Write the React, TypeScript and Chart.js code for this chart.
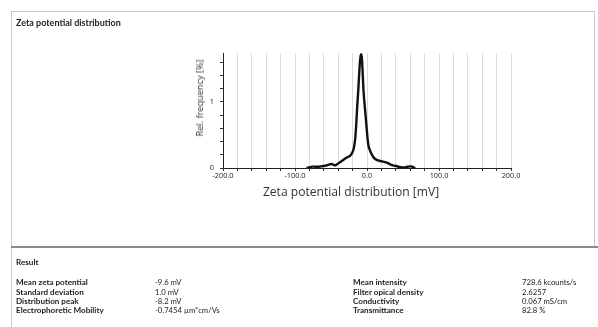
import React, { useEffect, useRef } from "react";
import { Chart, registerables } from "chart.js";

Chart.register(...registerables);

const zetaMv = [
  -84, -80, -76, -72, -68, -64, -60, -56, -52, -49, -46, -43, -40, -36, -32, -28, -24, -21, -19, -17.5,
  -16.3, -15, -14, -13, -12, -11, -10, -9, -8.2, -7.4, -6.5, -5, -3.5, -2, -0.5, 1, 2.2, 4, 6, 8.5,
  11, 14, 17, 21, 25, 29, 33, 37, 41, 45, 49, 53, 57, 61, 64, 67,
];
const relFrequency = [
  0, 0.01, 0.02, 0.02, 0.02, 0.025, 0.03, 0.04, 0.055, 0.06, 0.045, 0.045, 0.07, 0.1, 0.13, 0.16, 0.18, 0.22, 0.27, 0.35,
  0.45, 0.65, 0.85, 1.03, 1.2, 1.4, 1.58, 1.69, 1.72, 1.69, 1.55, 1.2, 0.98, 0.8, 0.6, 0.42, 0.33, 0.27, 0.22, 0.17,
  0.14, 0.12, 0.11, 0.1, 0.09, 0.075, 0.05, 0.035, 0.03, 0.015, 0.01, 0.01, 0.02, 0.025, 0.015, 0,
];

const xLabeledTicks = [-200, -100, 0, 100, 200];
const yLabeledTicks = [0, 1];

const resultLeftLabels = ["Mean zeta potential", "Standard deviation", "Distribution peak", "Electrophoretic Mobility"];
const resultLeftValues = ["-9.6 mV", "1.0 mV", "-8.2 mV", "-0.7454 µm*cm/Vs"];
const resultRightLabels = ["Mean intensity", "Filter opical density", "Conductivity", "Transmittance"];
const resultRightValues = ["728.6 kcounts/s", "2.6257", "0.067 mS/cm", "82.8 %"];

const FONT = "Lato, 'Open Sans', sans-serif";
const TEXT = "#222";

export default function App() {
  const ref = useRef<HTMLCanvasElement>(null);

  useEffect(() => {
    const ctx = ref.current!;
    const chart = new Chart(ctx, {
      type: "line",
      data: {
        datasets: [
          {
            data: zetaMv.map((x, i) => ({ x, y: relFrequency[i] })),
            borderColor: "#111",
            borderWidth: 2.4,
            pointRadius: 0,
            tension: 0.25,
            fill: false,
          },
        ],
      },
      options: {
        animation: false,
        responsive: false,
        devicePixelRatio: 1,
        layout: { padding: { left: 0, right: 87, top: 53, bottom: 139 } },
        plugins: { legend: { display: false }, tooltip: { enabled: false } },
        scales: {
          x: {
            type: "linear",
            min: -200,
            max: 200,
            afterFit: (s: any) => {
              s.height = 20;
            },
            ticks: {
              stepSize: 20,
              autoSkip: false,
              maxRotation: 0,
              padding: 1,
              color: TEXT,
              font: { family: "'Open Sans', sans-serif", size: 7.3 },
              callback: (v: any) => (xLabeledTicks.includes(Math.round(Number(v))) ? Number(v).toFixed(1) : ""),
            },
            grid: {
              color: "#dcdcdc",
              lineWidth: 1,
              drawTicks: true,
              tickLength: 3,
              tickColor: "#333",
            },
            border: { display: true, color: "#222", width: 1 },
          },
          y: {
            type: "linear",
            min: 0,
            max: 1.74,
            afterFit: (s: any) => {
              s.width = 223;
            },
            ticks: {
              stepSize: 0.2,
              includeBounds: false,
              padding: 6,
              color: TEXT,
              font: { family: "'Open Sans', sans-serif", size: 7.3 },
              callback: (v: any) => {
                const n = Number(v);
                return yLabeledTicks.some((t) => Math.abs(t - n) < 1e-6) ? String(Math.round(n)) : "";
              },
            },
            grid: {
              drawOnChartArea: false,
              drawTicks: true,
              tickLength: 3,
              tickColor: "#333",
            },
            border: { display: true, color: "#222", width: 1 },
          },
        },
      },
    });
    return () => chart.destroy();
  }, []);

  const abs = (left: number, top: number, extra: React.CSSProperties = {}): React.CSSProperties => ({
    position: "absolute",
    left,
    top,
    whiteSpace: "nowrap",
    ...extra,
  });

  const rowTops = [278, 287.5, 296.5, 305.5];
  const labelStyle: React.CSSProperties = { fontSize: 8.1, fontWeight: 700, lineHeight: "9px" };
  const valueStyle: React.CSSProperties = { fontSize: 7.7, lineHeight: "9px" };

  return (
    <div
      style={{
        position: "fixed",
        left: 0,
        top: 0,
        width: 598,
        height: 327,
        background: "#fff",
        overflow: "hidden",
        fontFamily: FONT,
        color: TEXT,
      }}
    >
      {/* frame */}
      <div style={abs(11, 11, { width: 584, height: 236, borderTop: "1px solid #c8c8c8", borderRight: "1px solid #c8c8c8", boxSizing: "border-box" })} />
      <div style={abs(11, 11, { width: 1, height: 316, background: "#c8c8c8" })} />
      <div style={abs(11, 246, { width: 587, height: 2, background: "#8a8a8a" })} />

      <canvas ref={ref} width={598} height={327} style={abs(0, 0, { width: 598, height: 327 })} />

      <div style={abs(16, 18, { fontSize: 9, fontWeight: 700, lineHeight: "10px" })}>Zeta potential distribution</div>

      <div
        style={abs(200, 98, {
          fontSize: 9.2,
          fontFamily: "'Open Sans', sans-serif",
          color: "#333",
          transform: "translate(-50%, -50%) rotate(-90deg)",
          lineHeight: "12px",
        })}
      >
        Rel. frequency [%]
      </div>
      <div
        style={abs(351, 192, {
          fontSize: 12.1,
          fontFamily: "'Open Sans', sans-serif",
          color: "#333",
          transform: "translate(-50%, -50%)",
          lineHeight: "14px",
        })}
      >
        Zeta potential distribution [mV]
      </div>

      <div style={abs(16, 258, labelStyle)}>Result</div>
      {resultLeftLabels.map((t, i) => (
        <div key={"ll" + i} style={abs(16, rowTops[i], labelStyle)}>
          {t}
        </div>
      ))}
      {resultLeftValues.map((t, i) => (
        <div key={"lv" + i} style={abs(155, rowTops[i], valueStyle)}>
          {t}
        </div>
      ))}
      {resultRightLabels.map((t, i) => (
        <div key={"rl" + i} style={abs(353, rowTops[i], labelStyle)}>
          {t}
        </div>
      ))}
      {resultRightValues.map((t, i) => (
        <div key={"rv" + i} style={abs(522, rowTops[i], valueStyle)}>
          {t}
        </div>
      ))}
    </div>
  );
}
